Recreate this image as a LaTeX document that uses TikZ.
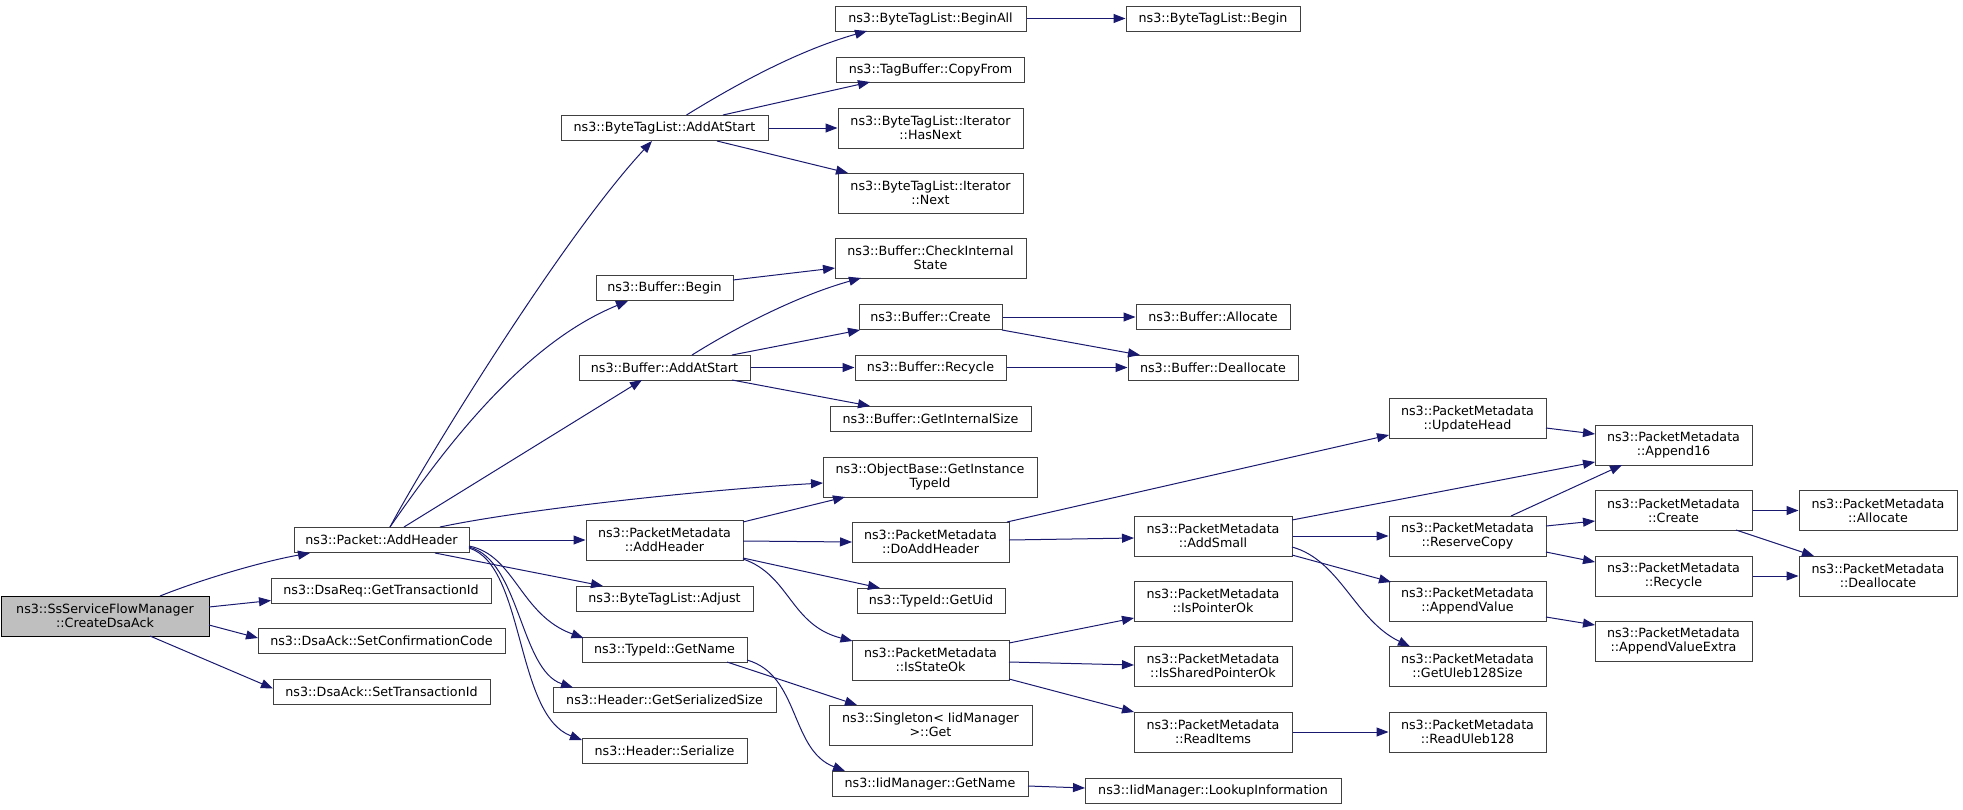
\documentclass[tikz,border=0pt]{standalone}
\usepackage{fontspec}
\setmainfont{DejaVu Sans}
\usetikzlibrary{arrows.meta}
\definecolor{edgeblue}{HTML}{191970}
\definecolor{rootgray}{HTML}{BFBFBF}
\begin{document}
\begin{tikzpicture}[x=1pt,y=-1pt,
  nd/.style={draw=black!75,line width=1pt,fill=white,inner sep=0pt,align=center,
    font=\fontsize{12.7}{14}\selectfont,minimum height=25pt},
  two/.style={minimum height=40pt},
  rootnd/.style={nd,two,fill=rootgray,draw=black},
  edg/.style={draw=edgeblue,line width=1pt,-{Triangle[length=12pt,width=9pt]}}]
\useasboundingbox (0,0) rectangle (1963,809);
% rank 0-1
\node[rootnd,minimum width=208pt] (root) at (105,616) {ns3::SsServiceFlowManager\\::CreateDsaAck};
\node[nd,minimum width=175pt] (pah) at (381.5,540) {ns3::Packet::AddHeader};
\node[nd,minimum width=220pt] (dsareq) at (381,590.5) {ns3::DsaReq::GetTransactionId};
\node[nd,minimum width=247pt] (setcc) at (381.5,640.5) {ns3::DsaAck::SetConfirmationCode};
\node[nd,minimum width=217pt] (settid) at (381.5,691.5) {ns3::DsaAck::SetTransactionId};
% rank 2
\node[nd,minimum width=207pt] (btl) at (664.5,128) {ns3::ByteTagList::AddAtStart};
\node[nd,minimum width=137pt] (bbegin) at (664.5,287.5) {ns3::Buffer::Begin};
\node[nd,minimum width=171pt] (baas) at (664.5,367.5) {ns3::Buffer::AddAtStart};
\node[nd,two,minimum width=157pt] (pmah) at (664.5,540) {ns3::PacketMetadata\\::AddHeader};
\node[nd,minimum width=177pt] (adjust) at (664.5,598.5) {ns3::ByteTagList::Adjust};
\node[nd,minimum width=165pt] (tgetname) at (664.5,649.5) {ns3::TypeId::GetName};
\node[nd,minimum width=223pt] (gss) at (664.5,700) {ns3::Header::GetSerializedSize};
\node[nd,minimum width=165pt] (ser) at (664.5,750.5) {ns3::Header::Serialize};
% rank 3
\node[nd,minimum width=191pt] (beginall) at (930.5,18.5) {ns3::ByteTagList::BeginAll};
\node[nd,minimum width=188pt] (copyfrom) at (930.5,69.5) {ns3::TagBuffer::CopyFrom};
\node[nd,two,minimum width=185pt] (hasnext) at (930.5,128) {ns3::ByteTagList::Iterator\\::HasNext};
\node[nd,two,minimum width=185pt] (next) at (930.5,193) {ns3::ByteTagList::Iterator\\::Next};
\node[nd,two,minimum width=191pt] (cis) at (930.5,258) {ns3::Buffer::CheckInternal\\State};
\node[nd,minimum width=143pt] (bcreate) at (930.5,317) {ns3::Buffer::Create};
\node[nd,minimum width=151pt] (brecycle) at (930.5,367.5) {ns3::Buffer::Recycle};
\node[nd,minimum width=201pt] (gis) at (930.5,418.5) {ns3::Buffer::GetInternalSize};
\node[nd,two,minimum width=214pt] (git) at (930,477) {ns3::ObjectBase::GetInstance\\TypeId};
\node[nd,two,minimum width=157pt] (doah) at (930.5,542) {ns3::PacketMetadata\\::DoAddHeader};
\node[nd,minimum width=148pt] (getuid) at (931,601) {ns3::TypeId::GetUid};
\node[nd,two,minimum width=157pt] (isok) at (930.5,660) {ns3::PacketMetadata\\::IsStateOk};
\node[nd,two,minimum width=203pt] (sget) at (930.5,725) {ns3::Singleton< IidManager\\ >::Get};
\node[nd,minimum width=196pt] (igetname) at (930,784) {ns3::IidManager::GetName};
% rank 4
\node[nd,minimum width=174pt] (btlbegin) at (1213,18.5) {ns3::ByteTagList::Begin};
\node[nd,minimum width=154pt] (balloc) at (1213,317) {ns3::Buffer::Allocate};
\node[nd,minimum width=170pt] (bdealloc) at (1213,367.5) {ns3::Buffer::Deallocate};
\node[nd,two,minimum width=158pt] (addsmall) at (1213,536) {ns3::PacketMetadata\\::AddSmall};
\node[nd,two,minimum width=158pt] (isptr) at (1213,601) {ns3::PacketMetadata\\::IsPointerOk};
\node[nd,two,minimum width=158pt] (isshared) at (1213,666) {ns3::PacketMetadata\\::IsSharedPointerOk};
\node[nd,two,minimum width=158pt] (readitems) at (1213,732) {ns3::PacketMetadata\\::ReadItems};
\node[nd,minimum width=256pt] (lookup) at (1213,790.5) {ns3::IidManager::LookupInformation};
% rank 5
\node[nd,two,minimum width=157pt] (updhead) at (1467.5,418.5) {ns3::PacketMetadata\\::UpdateHead};
\node[nd,two,minimum width=157pt] (rescopy) at (1467.5,536) {ns3::PacketMetadata\\::ReserveCopy};
\node[nd,two,minimum width=157pt] (appval) at (1467.5,601) {ns3::PacketMetadata\\::AppendValue};
\node[nd,two,minimum width=157pt] (uleb) at (1467.5,666) {ns3::PacketMetadata\\::GetUleb128Size};
\node[nd,two,minimum width=157pt] (readuleb) at (1467.5,732) {ns3::PacketMetadata\\::ReadUleb128};
% rank 6
\node[nd,two,minimum width=157pt] (app16) at (1673.5,445) {ns3::PacketMetadata\\::Append16};
\node[nd,two,minimum width=157pt] (pmcreate) at (1673.5,510.5) {ns3::PacketMetadata\\::Create};
\node[nd,two,minimum width=157pt] (pmrecycle) at (1673.5,576) {ns3::PacketMetadata\\::Recycle};
\node[nd,two,minimum width=157pt] (appvx) at (1673.5,641) {ns3::PacketMetadata\\::AppendValueExtra};
% rank 7
\node[nd,two,minimum width=158pt] (pmalloc) at (1878,510.5) {ns3::PacketMetadata\\::Allocate};
\node[nd,two,minimum width=158pt] (pmdealloc) at (1878,576) {ns3::PacketMetadata\\::Deallocate};

% edges
\draw[edg] ([shift={(55,-20)}]root.center) .. controls ([shift={(95,-36)}]root.center) and ([shift={(-121.5,22)}]pah.center) .. ([shift={(-71.5,13)}]pah.center);
\draw[edg] ([shift={(104,-9)}]root.center) -- ([shift={(-110,10)}]dsareq.center);
\draw[edg] ([shift={(104,9)}]root.center) -- ([shift={(-123.5,-2.5)}]setcc.center);
\draw[edg] ([shift={(45,20)}]root.center) -- ([shift={(-108.5,-3)}]settid.center);

\draw[edg] ([shift={(8.5,-13)}]pah.center) .. controls ([shift={(38.5,-70)}]pah.center) and ([shift={(-104.5,112)}]btl.center) .. ([shift={(-12.5,13)}]btl.center);
\draw[edg] ([shift={(8.5,-13)}]pah.center) .. controls ([shift={(58.5,-85)}]pah.center) and ([shift={(-144.5,57.5)}]bbegin.center) .. ([shift={(-36.5,13.5)}]bbegin.center);
\draw[edg] ([shift={(22.5,-13)}]pah.center) -- ([shift={(-22.5,12.5)}]baas.center);
\draw[edg] ([shift={(58.5,-13)}]pah.center) .. controls ([shift={(138.5,-30)}]pah.center) and ([shift={(-230,13)}]git.center) .. ([shift={(-107,6)}]git.center);
\draw[edg] (pah.east) -- (pmah.west);
\draw[edg] ([shift={(53.5,13)}]pah.center) -- ([shift={(-61.5,-12.5)}]adjust.center);
\draw[edg] ([shift={(87.5,6)}]pah.center) .. controls ([shift={(133.5,15)}]pah.center) and ([shift={(-144.5,-34.5)}]tgetname.center) .. ([shift={(-81,-11.5)}]tgetname.center);
\draw[edg] ([shift={(87.5,7)}]pah.center) .. controls ([shift={(138.5,20)}]pah.center) and ([shift={(-144.5,-30)}]gss.center) .. ([shift={(-91.5,-12.5)}]gss.center);
\draw[edg] ([shift={(87.5,8)}]pah.center) .. controls ([shift={(143.5,25)}]pah.center) and ([shift={(-149.5,-35.5)}]ser.center) .. ([shift={(-82.5,-10.5)}]ser.center);

\draw[edg] ([shift={(22,-13)}]btl.center) .. controls ([shift={(75.5,-46)}]btl.center) and ([shift={(-130.5,31.5)}]beginall.center) .. ([shift={(-63.5,12.5)}]beginall.center);
\draw[edg] ([shift={(58.5,-13)}]btl.center) -- ([shift={(-60.5,12.5)}]copyfrom.center);
\draw[edg] (btl.east) -- (hasnext.west);
\draw[edg] ([shift={(52.5,13)}]btl.center) -- ([shift={(-82.5,-20)}]next.center);
\draw[edg] (beginall.east) -- (btlbegin.west);

\draw[edg] ([shift={(68.5,-7.5)}]bbegin.center) -- ([shift={(-95.5,10)}]cis.center);
\draw[edg] ([shift={(27.5,-12.5)}]baas.center) .. controls ([shift={(75.5,-42.5)}]baas.center) and ([shift={(-130.5,37)}]cis.center) .. ([shift={(-69.5,20)}]cis.center);
\draw[edg] ([shift={(67.5,-12.5)}]baas.center) -- ([shift={(-70.5,13)}]bcreate.center);
\draw[edg] (baas.east) -- (brecycle.west);
\draw[edg] ([shift={(67.5,12.5)}]baas.center) -- ([shift={(-60.5,-12.5)}]gis.center);
\draw[edg] (bcreate.east) -- (balloc.west);
\draw[edg] ([shift={(71.5,13)}]bcreate.center) -- ([shift={(-73,-12.5)}]bdealloc.center);
\draw[edg] (brecycle.east) -- (bdealloc.west);

\draw[edg] ([shift={(78.5,-18)}]pmah.center) -- ([shift={(-85,20)}]git.center);
\draw[edg] ([shift={(78.5,1)}]pmah.center) -- ([shift={(-78.5,0)}]doah.center);
\draw[edg] ([shift={(78.5,18)}]pmah.center) -- ([shift={(-51,-13)}]getuid.center);
\draw[edg] ([shift={(78.5,19)}]pmah.center) .. controls ([shift={(125.5,35)}]pmah.center) and ([shift={(-140.5,-35)}]isok.center) .. ([shift={(-78,-19)}]isok.center);

\draw[edg] ([shift={(76.5,-20)}]doah.center) -- ([shift={(-78.5,16.5)}]updhead.center);
\draw[edg] ([shift={(78.5,-2)}]doah.center) -- ([shift={(-79,2)}]addsmall.center);
\draw[edg] ([shift={(78.5,9.5)}]updhead.center) -- ([shift={(-78.5,-11)}]app16.center);
\draw[edg] ([shift={(79,-16)}]addsmall.center) -- ([shift={(-78.5,17)}]app16.center);
\draw[edg] (addsmall.east) -- (rescopy.west);
\draw[edg] ([shift={(79,19)}]addsmall.center) -- ([shift={(-76.5,-19)}]appval.center);
\draw[edg] ([shift={(79,11)}]addsmall.center) .. controls ([shift={(127,24)}]addsmall.center) and ([shift={(-112.5,-46)}]uleb.center) .. ([shift={(-57.5,-19.5)}]uleb.center);
\draw[edg] ([shift={(43.5,-20)}]rescopy.center) -- ([shift={(-51.5,20)}]app16.center);
\draw[edg] ([shift={(78.5,-10)}]rescopy.center) -- ([shift={(-78.5,10.5)}]pmcreate.center);
\draw[edg] ([shift={(78.5,16)}]rescopy.center) -- ([shift={(-78.5,-14)}]pmrecycle.center);
\draw[edg] (pmcreate.east) -- (pmalloc.west);
\draw[edg] ([shift={(62.5,19.5)}]pmcreate.center) -- ([shift={(-64,-20)}]pmdealloc.center);
\draw[edg] (pmrecycle.east) -- (pmdealloc.west);
\draw[edg] ([shift={(78.5,16)}]appval.center) -- ([shift={(-78.5,-16)}]appvx.center);

\draw[edg] ([shift={(78.5,-17)}]isok.center) -- ([shift={(-79,17)}]isptr.center);
\draw[edg] ([shift={(78.5,2)}]isok.center) -- ([shift={(-79,-1)}]isshared.center);
\draw[edg] ([shift={(78.5,19)}]isok.center) -- ([shift={(-79,-20)}]readitems.center);
\draw[edg] (readitems.east) -- (readuleb.west);

\draw[edg] ([shift={(62.5,12.5)}]tgetname.center) -- ([shift={(-73.5,-20)}]sget.center);
\draw[edg] ([shift={(82.5,10.5)}]tgetname.center) .. controls ([shift={(135.5,25.5)}]tgetname.center) and ([shift={(-140,-34)}]igetname.center) .. ([shift={(-85,-13)}]igetname.center);
\draw[edg] ([shift={(98,2)}]igetname.center) -- ([shift={(-128,-2.5)}]lookup.center);
\end{tikzpicture}
\end{document}
